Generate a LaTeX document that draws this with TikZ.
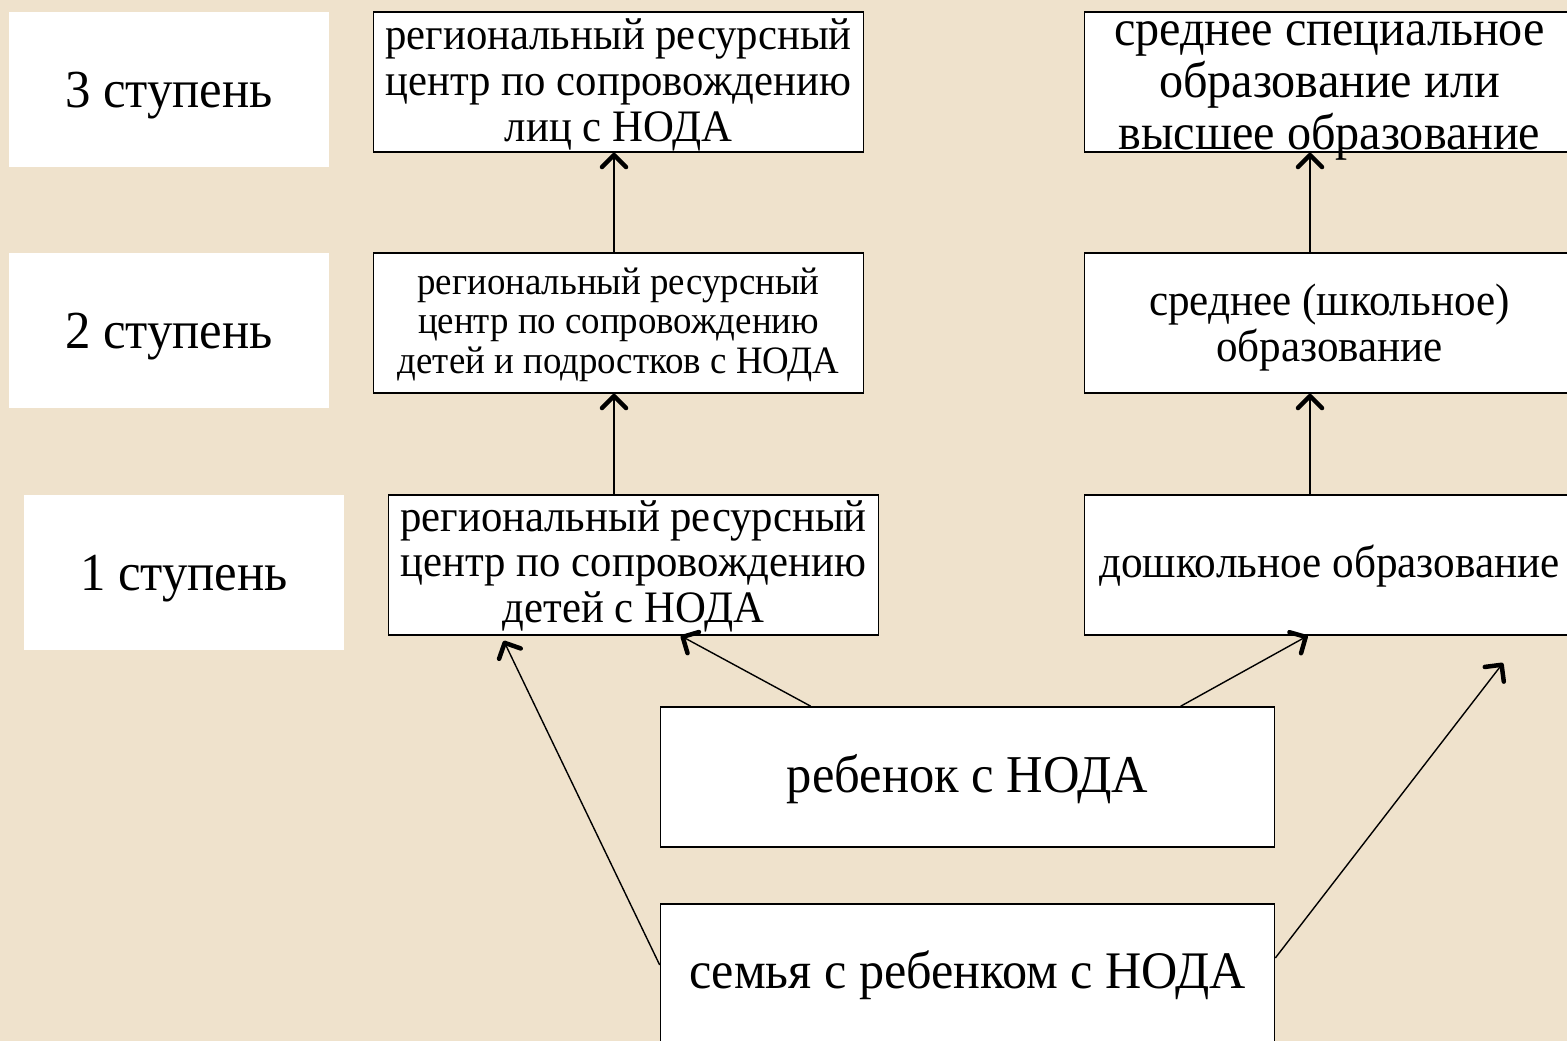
\documentclass[tikz,border=0pt]{standalone}
\usepackage{fontspec}
\setmainfont[FakeStretch=0.95]{Liberation Serif}
\usetikzlibrary{arrows.meta}
\definecolor{paper}{HTML}{EFE2CC}
\tikzset{
  centered/.style = { align=flush center, anchor=center },
     level/.style = { fill=white, centered, text depth=0pt, minimum width=320pt,
                      minimum height=155pt, font=\fs{53.5} },
       box/.style = { draw, line width=1.6pt, fill=white, centered, inner sep=0pt,
                      text width=490pt, minimum height=140pt },
      wide/.style = { box, text width=614pt },
     lines/.style 2 args = { text height=#1, text depth=#2 },
     arrow/.style = { line width=1.4pt, color=black,
                      -{Straight Barb[length=12pt,width=24pt,line width=4.5pt,round]} }
}
\newcommand*{\fs}[1]{\fontsize{#1}{1.02\dimexpr#1pt\relax}\selectfont}

\begin{document}
\begin{tikzpicture}[x=1pt,y=-1pt]
  \useasboundingbox[fill=paper] (0,0) rectangle (1567,1041);

  % stages
  \node[level] (s3) at (169,89.5)  {3 ступень};
  \node[level] (s2) at (169,330.5) {2 ступень};
  \node[level] (s1) at (184,572.5) {1 ступень};

  % resource centres
  \node[box, lines={33pt}{97pt}, font=\fs{45}] (r3) at (618.5,82)
    {региональный ресурсный\\центр по сопровождению\\лиц с НОДА};
  \node[box, lines={36pt}{94pt}, font=\fs{38.8}] (r2) at (618.5,323)
    {региональный ресурсный\\центр по сопровождению\\детей и подростков с НОДА};
  \node[box, lines={31pt}{99pt}, font=\fs{45}] (r1) at (633.5,565)
    {региональный ресурсный\\центр по сопровождению\\детей с НОДА};

  % education
  \node[box, lines={30pt}{102pt}, font=\fs{50.7}] (e3) at (1329.5,82)
    {среднее специальное\\образование или\\высшее образование};
  \node[box, lines={57pt}{73pt}, font=\fs{45.4}] (e2) at (1329.5,323)
    {среднее (школьное)\\образование};
  \node[box, lines={77pt}{53pt}, font=\fs{45.5}] (e1) at (1329.5,565) {дошкольное образование};

  \node[wide, lines={80pt}{50pt}, font=\fs{53.2}] (child)  at (967.5,777) {ребенок с НОДА};
  \node[wide, lines={79pt}{51pt}, font=\fs{52.8}] (family) at (967.5,974) {семья с ребенком с НОДА};
  \coordinate (free) at (1503,663);

  \draw [arrow] ([xshift=-4.5pt]r1.north -| r2.south) -- ([xshift=-4.5pt]r2.south);
  \draw [arrow] ([xshift=-4.5pt]r2.north) -- ([xshift=-4.5pt]r3.south);
  \draw [arrow] ([xshift=-19.5pt]e1.north) -- ([xshift=-19.5pt]e2.south);
  \draw [arrow] ([xshift=-19.5pt]e2.north) -- ([xshift=-19.5pt]e3.south);
  \draw [arrow] ([xshift=151pt]child.north west) -- ([xshift=293pt]r1.south west);
  \draw [arrow] ([xshift=521pt]child.north west) -- ([xshift=224pt]e1.south west);
  \draw [arrow] ([yshift=9pt]family.west) -- ([xshift=116pt,yshift=-5pt]r1.south west);
  \draw [arrow] ([yshift=16pt]family.east) -- (free);
\end{tikzpicture}
\end{document}
